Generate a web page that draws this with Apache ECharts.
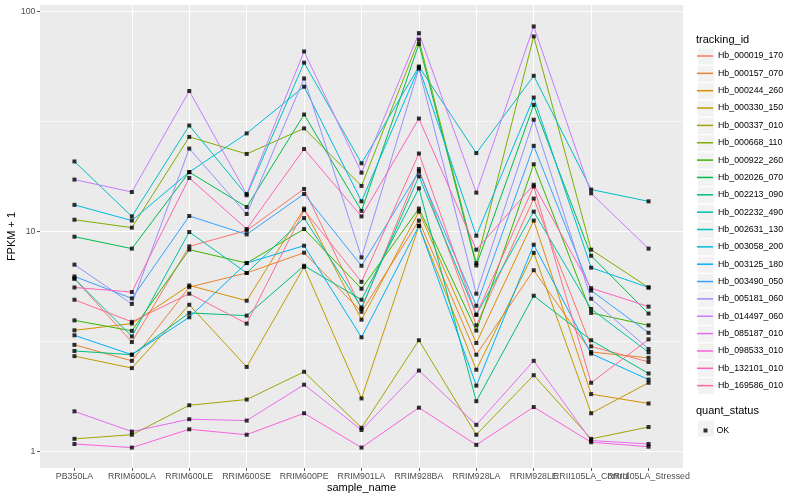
<!DOCTYPE html>
<html><head><meta charset="utf-8">
<script src="https://cdn.jsdelivr.net/npm/echarts@6/dist/echarts.min.js"></script>
<style>html,body{margin:0;padding:0;background:#fff}#c{width:800px;height:500px}</style>
</head><body><div id="c"></div>
<script>
const samples = ['PB350LA','RRIM600LA','RRIM600LE','RRIM600SE','RRIM600PE','RRIM901LA','RRIM928BA','RRIM928LA','RRIM928LE','RRII105LA_Control','RRII105LA_Stressed'];
const trackingIds = ['Hb_000019_170','Hb_000157_070','Hb_000244_260','Hb_000330_150','Hb_000337_010','Hb_000668_110','Hb_000922_260','Hb_002026_070','Hb_002213_090','Hb_002232_490','Hb_002631_130','Hb_003058_200','Hb_003125_180','Hb_003490_050','Hb_005181_060','Hb_014497_060','Hb_085187_010','Hb_098533_010','Hb_132101_010','Hb_169586_010'];
const yTickLabels = [1, 10, 100];
const statusLevels = ['OK'];

const hb_000019_170 = [6.1, 3.14, 8.55, 10.1, 15.6, 4.44, 19.2, 3.74, 14.1, 3.0, 2.55];
const hb_000157_070 = [3.05, 2.58, 5.58, 6.47, 8.0, 4.31, 11.2, 2.75, 6.66, 2.83, 2.66];
const hb_000244_260 = [3.55, 3.81, 5.68, 4.84, 12.7, 3.97, 12.3, 3.11, 11.2, 1.82, 1.65];
const hb_000330_150 = [2.71, 2.39, 4.64, 2.42, 6.89, 1.74, 10.6, 2.35, 7.99, 1.49, 2.05];
const hb_000337_010 = [1.14, 1.19, 1.62, 1.72, 2.30, 1.28, 3.2, 1.19, 2.22, 1.14, 1.29];
const hb_000668_110 = [11.3, 10.4, 26.9, 22.5, 29.4, 16.1, 74.4, 7.17, 77, 8.26, 5.56];
const hb_000922_260 = [3.94, 3.53, 8.26, 7.18, 10.25, 5.49, 12.7, 3.54, 20.2, 4.26, 3.74];
const hb_002026_070 = [9.46, 8.35, 18.6, 12.9, 34.0, 12.4, 71.1, 7.0, 37.6, 7.75, 4.23];
const hb_002213_090 = [2.86, 2.75, 4.26, 4.14, 6.98, 4.89, 15.7, 1.69, 5.10, 3.2, 2.26];
const hb_002232_490 = [6.1, 3.33, 9.94, 6.47, 11.5, 4.51, 17.8, 4.18, 12.3, 4.44, 2.82];
const hb_002631_130 = [20.8, 11.7, 30.3, 14.6, 58.5, 20.4, 56.2, 22.7, 51, 15.5, 13.7];
const hb_003058_200 = [13.2, 11.2, 18.6, 27.9, 45.5, 13.7, 55.6, 9.56, 40.6, 6.84, 5.56];
const hb_003125_180 = [3.37, 2.75, 4.07, 7.18, 8.61, 3.30, 10.6, 1.99, 8.7, 2.78, 2.12];
const hb_003490_050 = [6.24, 4.96, 11.75, 9.69, 14.8, 6.98, 18.7, 4.59, 24.5, 5.38, 3.46];
const hb_005181_060 = [7.06, 4.68, 23.8, 12.0, 49.6, 7.62, 55.0, 5.21, 32.2, 4.94, 2.92];
const hb_014497_060 = [17.2, 15.1, 43.5, 14.8, 65.8, 18.5, 79.7, 15.0, 85.5, 14.9, 8.35];
const hb_085187_010 = [1.52, 1.23, 1.40, 1.38, 2.01, 1.25, 2.33, 1.32, 2.58, 1.12, 1.08];
const hb_098533_010 = [1.08, 1.04, 1.26, 1.19, 1.49, 1.04, 1.58, 1.07, 1.59, 1.10, 1.05];
const hb_132101_010 = [5.56, 5.30, 17.5, 10.25, 23.7, 11.7, 32.6, 8.26, 16.3, 5.52, 4.55];
const hb_169586_010 = [4.89, 3.88, 5.21, 3.81, 12.5, 5.9, 22.6, 4.18, 16.0, 2.05, 3.23];

const seriesValues = [hb_000019_170, hb_000157_070, hb_000244_260, hb_000330_150, hb_000337_010, hb_000668_110, hb_000922_260, hb_002026_070, hb_002213_090, hb_002232_490, hb_002631_130, hb_003058_200, hb_003125_180, hb_003490_050, hb_005181_060, hb_014497_060, hb_085187_010, hb_098533_010, hb_132101_010, hb_169586_010];

const palette = ['#F8766D','#EA8331','#D89000','#C09B00','#A3A500','#7CAE00','#39B600','#00BB4E','#00BF7D','#00C1A3','#00BFC4','#00BAE0','#00B0F6','#35A2FF','#9590FF','#C77CFF','#E76BF3','#FA62DB','#FF62BC','#FF6C91'];

const FONT = 'Liberation Sans, Arial, sans-serif';
const idx = samples.map((s, i) => i);
const idxMain = idx.filter(i => i !== 9);
const LINE_ICON = 'path://M0,0 L32,0 L32,3 L0,3 Z';

const series = trackingIds.map((id, k) => ({
  name: id, type: 'line', symbol: 'none', showSymbol: false, color: palette[k],
  itemStyle: { color: palette[k] },
  lineStyle: { width: 1, color: palette[k] },
  data: seriesValues[k].map((v, i) => [i, v]),
  z: 2, silent: true,
  markLine: k === 0 ? {
    silent: true, symbol: 'none', z: 1, animation: false,
    label: { show: false },
    lineStyle: { color: '#ffffff', width: 0.55, type: 'solid' },
    data: [{ yAxis: Math.sqrt(10) }, { yAxis: Math.sqrt(1000) }]
  } : undefined
}));
const points = [];
seriesValues.forEach(arr => arr.forEach((v, i) => points.push([i, v])));
series.push({
  name: statusLevels[0], type: 'scatter', symbol: 'rect', symbolSize: 4,
  itemStyle: { color: '#000' }, data: points, z: 3, silent: true
});

const keyTop = 47.5, keyStep = 17.35;
const boxes = [];
trackingIds.forEach((id, k) => boxes.push({
  type: 'rect', left: 697, top: keyTop + k * keyStep,
  shape: { width: 17, height: 17 }, style: { fill: '#F2F2F2', stroke: '#fff', lineWidth: 1 }, z: 0
}));
boxes.push({ type: 'rect', left: 697, top: 419.5, shape: { width: 17, height: 17 },
  style: { fill: '#F2F2F2', stroke: '#fff', lineWidth: 1 }, z: 0 });

const legendItems = trackingIds.map(id => ({ name: id, icon: LINE_ICON }));

const xLabelStyle = { margin: 4, fontSize: 8.8, color: '#4D4D4D', fontFamily: FONT,
  interval: 0, hideOverlap: false, showMinLabel: true, showMaxLabel: true,
  formatter: v => samples[Math.round(v)] || '' };

const chart = echarts.init(document.getElementById('c'), null, { renderer: 'canvas' });
chart.setOption({
  animation: false,
  backgroundColor: '#fff',
  textStyle: { fontFamily: FONT },
  title: [
    { text: 'tracking_id', left: 696, top: 34, padding: 0, textStyle: { fontSize: 11, fontWeight: 'normal', color: '#000', fontFamily: FONT } },
    { text: 'quant_status', left: 696, top: 405, padding: 0, textStyle: { fontSize: 11, fontWeight: 'normal', color: '#000', fontFamily: FONT } }
  ],
  graphic: boxes,
  legend: [
    { data: legendItems, orient: 'vertical', left: 697, top: keyTop, padding: 0,
      itemWidth: 16, itemHeight: 17, itemGap: keyStep - 17, selectedMode: false,
      symbolKeepAspect: true,
      textStyle: { fontSize: 8.8, color: '#000', fontFamily: FONT, lineHeight: 17, height: 17 } },
    { data: statusLevels, orient: 'vertical', left: 703.5, top: 426, padding: 0,
      itemWidth: 4, itemHeight: 4, selectedMode: false,
      textStyle: { fontSize: 8.8, color: '#000', fontFamily: FONT, padding: [0, 0, 0, 4] } }
  ],
  grid: { left: 40, right: 117, top: 5, bottom: 32, show: true, backgroundColor: '#EBEBEB', borderWidth: 0,
    containLabel: false, outerBoundsMode: 'none' },
  xAxis: [{
    type: 'value', min: -0.6, max: 10.6, position: 'bottom',
    name: 'sample_name', nameLocation: 'middle', nameGap: 14.5, nameMoveOverlap: false,
    nameTextStyle: { fontSize: 11, color: '#000', fontFamily: FONT },
    axisLine: { show: false, onZero: false },
    axisTick: { show: true, length: 3, customValues: idx, lineStyle: { color: '#333', width: 0.8 } },
    axisLabel: Object.assign({ customValues: idxMain }, xLabelStyle),
    splitLine: { show: true, showMinLine: false, showMaxLine: false, lineStyle: { color: '#fff', width: 1.1 } }
  }, {
    type: 'value', min: -0.6, max: 10.6, position: 'bottom', offset: 0,
    axisLine: { show: false, onZero: false }, axisTick: { show: false }, splitLine: { show: false },
    axisLabel: Object.assign({ customValues: [9] }, xLabelStyle)
  }],
  yAxis: {
    type: 'log', logBase: 10, min: 0.84, max: 107, position: 'left',
    name: 'FPKM + 1', nameLocation: 'middle', nameGap: 22.5, nameMoveOverlap: false,
    nameTextStyle: { fontSize: 11, color: '#000', fontFamily: FONT },
    axisLine: { show: false, onZero: false },
    axisTick: { show: true, length: 3, lineStyle: { color: '#333', width: 0.8 } },
    axisLabel: { margin: 4.5, fontSize: 8.8, color: '#4D4D4D', fontFamily: FONT,
      showMinLabel: false, showMaxLabel: false,
      formatter: v => { const l = Math.log10(v); return Math.abs(l - Math.round(l)) < 1e-6 ? String(Math.round(v)) : ''; } },
    splitLine: { show: true, showMinLine: false, showMaxLine: false, lineStyle: { color: '#fff', width: 1.1 } }
  },
  series: series
});
</script></body></html>
